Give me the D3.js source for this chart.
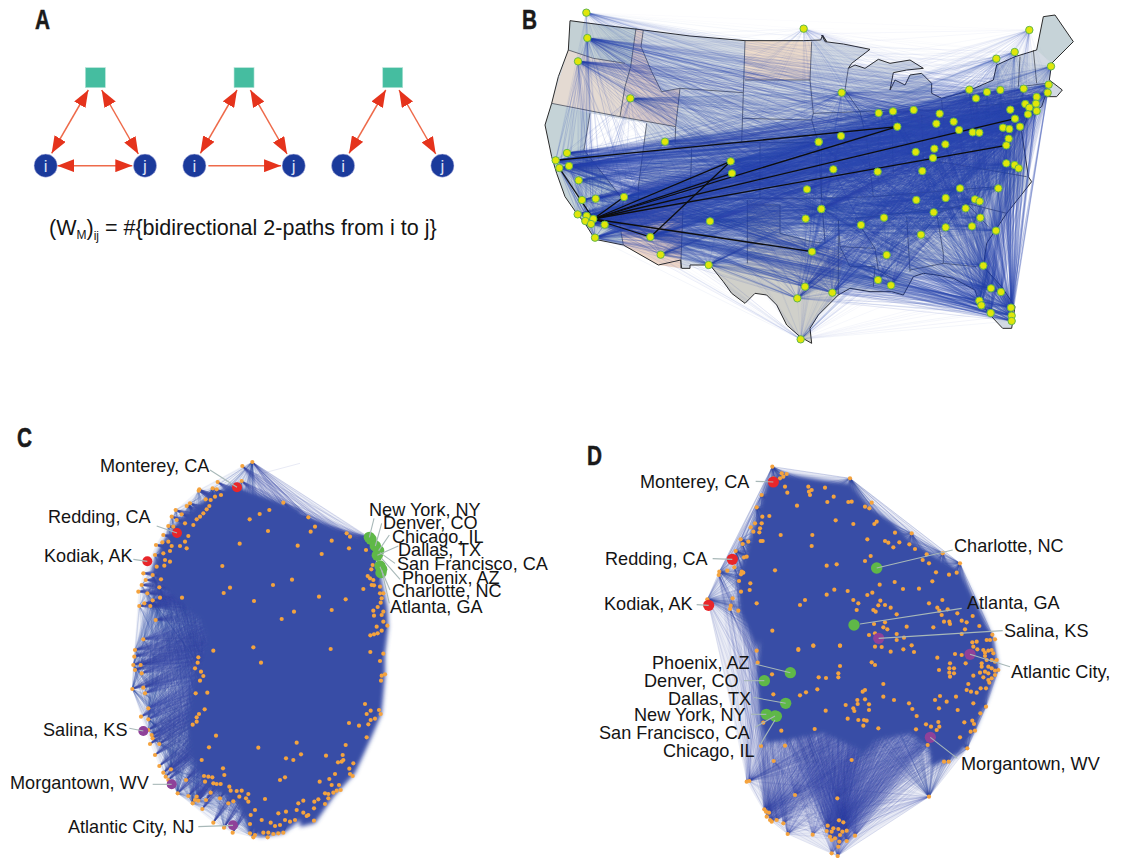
<!DOCTYPE html>
<html>
<head>
<meta charset="utf-8">
<script src="https://cdnjs.cloudflare.com/ajax/libs/d3/7.8.5/d3.min.js"></script>
<style>
body { margin: 0; background: #fff; }
text { font-family: "Liberation Sans", Arial, sans-serif; fill: #141414; }
.letter { font-weight: bold; font-size: 27px; fill: #1a1a1a; stroke: #1a1a1a; stroke-width: 0.5px; }
.label { font-size: 18.1px; }
</style>
</head>
<body>
<div id="chart"></div>
<script>
// ---------- data. each list is in the units of its own tile
// panel A
var motifNames = ["i", "j"];
var motifEdges = [["i", "j", "both"], ["i", "j", "one"], null];
var formulaParts = ["(W", "M", ")", "ij", " = #{bidirectional 2-paths from i to j}"];

// panel B airports [x, y, traffic]
var airportsWest = [[229,38,1.5],[232,114,4],[204,184,3],[361,295,2.5],[881,86,1],[465,425,2.5],[926,425,3],[171,459,3],[137,481,5],[148,504,4],[177,498,4],[206,541,2.5],[216,600,2],[257,596,2],[342,591,4.5],[203,643,2.5],[230,648,5],[226,663,3],[250,657,5],[243,672,3],[284,674,4],[255,713,4],[421,711,4.5],[452,764,2.5],[662,484,5],[666,520,4],[891,568,3],[934,627,3],[887,656,3],[600,664,3],[906,755,5],[596,795,2.5],[885,860,3],[862,895,3],[872,1018,1.2]];
var airportsEast = [[658,90,1],[614,156,1.5],[559,176,1.5],[723,199,1.5],[716,254,3],[713,278,4],[478,269,3],[531,276,3],[571,270,3],[641,266,3],[498,295,4],[680,291,4],[678,311,4],[646,312,4],[658,323,4],[680,333,4],[654,343,4],[601,329,4],[615,356,5],[95,278,3],[206,339,3],[249,334,3],[311,330,4],[389,341,4],[379,371,4],[431,365,4],[262,380,5],[447,390,4],[488,397,4],[508,398,4],[579,383,4],[598,387,4],[630,380,4],[596,416,4],[589,436,5],[26,426,3.5],[93,408,4],[317,456,4],[373,446,4],[406,433,4],[369,474,4],[70,508,4],[203,515,4],[337,513,3],[589,490,3],[614,495,3],[626,505,2.5],[450,565,3],[565,565,2.5],[319,600,3.5],[407,594,3],[495,598,3],[509,604,2.5],[34,627,3],[467,625,3],[371,637,5],[222,653,3],[153,675,3],[511,653,2.5],[486,679,2.5],[407,682,2.5],[558,692,2.5],[333,704,2.5],[230,765,2.5],[520,797,2.5],[204,840,2.5],[243,856,3],[67,878,4],[543,865,3],[573,876,3],[508,902,3],[514,916,3],[542,939,3],[603,923,4],[605,947,4.5],[605,963,4]];
// the routes in black, in west tile units
var blackRoutes = [
  [[137,481],[1162,380]], [[250,657],[1162,380]], [[250,657],[1515,356]], [[250,657],[1489,436]],
  [[250,657],[662,484]], [[250,657],[666,520]], [[250,657],[342,591]], [[421,711],[662,484]],
  [[250,657],[906,755]], [[250,657],[421,711]], [[148,504],[250,657]]
];

// map
var usWest = [[180,62],[300,78],[400,90],[540,108],[705,122],[880,122],[932,120],[938,105],[950,125]];
var usEast = [[35,105],[45,125],[100,132],[180,148],[125,190],[115,205],[135,195],[165,205],[205,178],[240,190],[300,180],[340,205],[290,210],[250,218],[240,270],[255,240],[285,255],[300,225],[335,220],[365,250],[365,280],[395,295],[470,275],[550,240],[560,195],[615,170],[680,150],[700,50],[735,45],[790,125],[725,190],[718,240],[757,270],[740,290],[705,290],[695,320],[655,345],[635,395],[655,530],[665,545],[630,590],[590,640],[530,730],[520,800],[575,860],[615,920],[605,985],[578,985],[545,950],[505,900],[495,870],[430,835],[380,825],[340,820],[310,830],[280,885],[245,875],[180,875],[120,865],[85,885],[25,945],[0,985]];
var usSouthWest = [[905,1030],[870,1010],[830,975],[800,915],[770,885],[735,880],[705,910],[665,880],[640,845],[600,795],[540,795],[540,805],[515,805],[512,780],[445,795],[340,735],[255,718],[225,670],[200,640],[165,590],[140,520],[125,470],[105,375],[125,310],[145,230],[175,150]];
var stateFills = [
  {name:"WA", tint:"#c3d0d4", shape:[[180,62],[378,85],[362,200],[345,190],[250,175],[175,150]]},
  {name:"OR", tint:"#e4dad2", shape:[[175,150],[250,175],[345,190],[362,200],[345,260],[330,350],[125,310]]},
  {name:"CA", tint:"#c5d3d7", shape:[[125,310],[240,340],[222,450],[340,600],[330,680],[340,735],[255,718],[225,670],[200,640],[165,590],[140,520],[125,470],[105,375]]},
  {name:"NV", tint:"#ffffff", shape:[[240,340],[410,370],[385,560],[345,600],[222,450]]},
  {name:"ID", tint:"#dccdca", shape:[[378,85],[400,90],[393,140],[425,215],[455,275],[510,265],[497,380],[330,350],[345,260],[362,200]]},
  {name:"AZ", tint:"#edd6c8", shape:[[345,600],[520,600],[512,805],[445,795],[340,735],[330,680]]},
  {name:"ND", tint:"#eedccb", shape:[[705,122],[905,125],[900,240],[705,240]]},
  {name:"TX", tint:"#d0d0ca", shape:[[712,600],[810,615],[810,700],[905,725],[1000,755],[985,885],[925,945],[900,985],[905,1030],[870,1010],[830,975],[800,915],[770,885],[735,880],[705,910],[665,880],[640,845],[600,795],[712,790]]},
  {name:"ME", tint:"#c6d3d8", shape:[[1600,50],[1635,45],[1690,125],[1625,190],[1580,150]]}
];
var bordersWest = [
  [[175,150],[250,175],[345,190]], [[378,85],[362,200],[345,260],[330,350]], [[125,310],[330,350],[497,380]],
  [[400,90],[393,140],[425,215],[455,275],[510,265]], [[510,265],[700,278]], [[510,265],[497,380],[495,430]],
  [[705,122],[700,278],[695,428]], [[705,240],[900,240]], [[905,125],[900,240],[910,340],[905,360],[925,428]],
  [[697,355],[905,360]], [[495,430],[697,428]], [[697,428],[750,428],[925,428]], [[545,445],[540,600]],
  [[750,430],[750,595]], [[240,340],[222,450],[340,600],[330,680],[340,735]], [[410,370],[385,560],[385,600]],
  [[345,600],[520,600],[750,595]], [[520,600],[512,805]], [[712,600],[712,790]],
  [[712,615],[810,615],[810,700],[905,725],[945,730]], [[750,595],[935,595]], [[925,428],[935,595],[945,730]]
];
var bordersEast = [
  [[115,205],[105,270],[150,335]], [[10,340],[150,335],[245,330]], [[25,430],[170,420]], [[150,335],[170,420],[190,590]],
  [[35,430],[35,595],[190,590]], [[245,330],[250,520]], [[335,345],[340,480]], [[280,335],[395,330]],
  [[395,300],[405,420]], [[190,590],[560,560]], [[135,655],[450,620]], [[340,480],[420,490],[650,530]],
  [[85,660],[90,740],[195,745]], [[135,655],[195,745]], [[90,740],[120,800],[195,800],[190,860]],
  [[195,745],[205,810],[255,840]], [[290,650],[300,815]], [[380,640],[400,760],[400,790]], [[300,810],[400,790],[500,800]],
  [[380,640],[470,610],[535,680]], [[470,610],[590,640]], [[480,320],[600,310]], [[630,170],[625,260]],
  [[670,150],[680,250]], [[630,260],[710,250]], [[405,400],[610,385]], [[85,660],[85,885]]
];

// panel C nodes
var cTop = [[757,126],[727,138],[725,183],[653,186],[638,205],[598,208],[596,212],[663,225],[650,208],[645,230],[632,240],[617,238],[570,250],[560,258],[527,270],[628,258],[620,268],[610,280],[600,290],[590,298],[580,315],[545,283],[515,290],[530,300],[555,310],[520,320],[505,318],[490,345],[505,365],[565,348],[555,365],[560,385],[540,378],[515,378],[487,367],[468,375],[490,400],[510,393],[465,405],[510,425],[495,420],[493,437],[470,440],[430,460],[458,465],[437,480],[425,495],[483,478],[478,502],[415,515],[442,520],[480,533],[458,541],[433,550],[418,558],[451,558],[546,533],[467,600],[430,658],[850,248],[808,270],[779,282],[749,298],[804,333],[719,371],[893,377],[667,438],[690,503],[671,519],[819,495],[876,479],[762,543],[882,575],[845,597]];
var cBottom = [[405,30],[403,50],[400,75],[405,90],[422,75],[425,100],[397,147],[430,143],[435,160],[595,52],[593,68],[585,85],[603,95],[610,108],[600,122],[622,158],[587,160],[640,32],[760,22],[783,68],[445,205],[423,230],[445,238],[614,208],[597,222],[590,232],[590,245],[578,254],[445,270],[455,285],[458,295],[450,312],[478,312],[648,287],[627,322],[465,345],[605,360],[478,378],[513,388],[490,398],[497,410],[505,420],[775,323],[890,308],[858,355],[880,360],[669,385],[673,405],[612,408],[625,410],[637,412],[615,425],[640,430],[650,432],[662,432],[855,412],[840,420],[558,420],[688,440],[692,452],[710,453],[725,452],[745,462],[718,470],[738,475],[745,485],[533,460],[565,468],[590,470],[585,480],[595,482],[632,458],[660,475],[618,480],[578,490],[700,484],[685,490],[607,507],[795,477],[765,510],[835,520],[858,515],[785,540],[812,548],[825,558],[840,555],[855,540],[870,545],[885,540],[890,510],[895,490],[640,548],[672,563],[698,578],[752,525],[750,552],[750,580],[765,585],[760,592],[790,578],[805,578],[820,582],[803,592],[835,580],[850,578]];
var cRight = [[25,112],[45,140],[32,155],[140,160],[150,170],[95,182],[147,205],[65,222],[198,210],[218,255],[214,268],[203,288],[210,295],[220,300],[215,315],[222,316],[190,327],[240,320],[240,340],[250,340],[245,355],[57,350],[137,358],[95,390],[242,368],[233,381],[220,392],[250,395],[245,405],[222,407],[250,425],[230,440],[262,437],[245,452],[233,460],[222,463],[211,466],[92,507],[211,516],[250,521],[240,543],[255,583],[245,587],[243,602],[195,672],[212,692],[237,690],[242,702],[200,702],[212,720],[225,716],[205,733],[147,729],[177,737],[200,772],[137,795],[3,823],[78,827],[128,825],[130,840],[114,847],[125,845],[160,850],[148,866],[150,882],[158,888],[105,882],[88,897],[59,905],[95,915],[117,915],[122,930],[110,932],[75,940],[85,942],[100,938],[85,955],[10,962],[55,958],[43,965],[75,972],[42,985],[10,998],[25,1005],[42,1022],[20,1008]];
var cGreen = [[208,172],[213,178],[226,198],[236,212],[232,226],[240,258],[245,268],[243,278]];
var cRedTop = [[711,202],[531,339],[442,424]];
var cPurple = [[430,273],[515,433],[699,556]];
var cCoreTop = [[700,195],[850,250],[900,270]];
var cCoreRight = [[0,100],[130,155],[195,180],[240,280],[262,380],[265,440],[255,520],[255,590],[245,700],[215,770],[165,880],[100,950],[45,1030],[0,1040]];
var cCoreBottom = [[900,540],[850,580],[780,590],[750,570],[715,490],[610,430],[570,340],[560,250],[590,100],[620,0]];
var cCoreLeft = [[600,600],[500,510],[455,450],[480,380],[540,300],[620,235],[680,200]];
var cStray = [[[900,130],[750,170]]];

// panel D nodes
var dTop = [[547,80],[550,115],[575,100],[590,102],[580,110],[570,115],[585,140],[592,158],[515,165],[500,202],[538,228],[517,230],[515,250],[495,250],[482,262],[490,275],[510,265],[508,277],[621,197],[655,140],[657,155],[665,150],[660,165],[705,143],[731,170],[712,186],[775,186],[785,185],[780,115],[737,241],[790,252],[572,285],[667,285],[512,303],[518,303],[452,298],[458,312],[475,305],[665,318],[437,333],[470,350],[462,352],[433,382],[412,392],[388,395],[386,405],[455,395],[460,398],[453,403],[555,391],[710,377],[740,373],[447,423],[481,430],[479,450],[453,455],[733,449],[710,464],[773,453],[790,480],[500,490],[428,475],[422,497],[420,507],[445,512],[352,478],[645,480],[630,495],[805,490],[800,510],[547,572],[670,617],[750,617],[625,627]];
var dMiddle = [[500,32],[503,68],[546,103],[625,30],[670,17],[750,17],[750,78],[745,100],[745,112],[686,112],[708,114],[682,148],[648,157],[630,166],[550,163],[767,195],[790,205],[793,213],[802,180],[803,192],[707,212],[773,236],[805,240],[520,248],[674,267],[574,272],[513,318],[585,317],[551,363],[785,360]];
var dBottom = [[478,423],[470,425],[615,465],[742,475],[523,508],[528,515],[537,518],[530,530],[540,540],[545,545],[560,540],[580,550],[593,582],[668,584],[713,557],[747,541],[760,547],[730,565],[745,567],[770,572],[757,575],[710,573],[725,575],[795,587],[720,590],[750,585],[735,595],[725,600],[770,603],[748,605],[745,620],[725,640],[743,648]];
var dRight = [[35,8],[28,25],[15,20],[50,65],[43,72],[105,98],[155,100],[22,118],[75,123],[85,128],[118,127],[148,133],[100,142],[165,147],[200,163],[248,160],[300,190],[32,168],[15,183],[188,180],[207,190],[228,217],[267,224],[290,218],[104,246],[217,244],[59,254],[129,267],[177,266],[37,278],[22,285],[61,302],[75,315],[55,316],[92,323],[40,330],[47,335],[207,310],[247,300],[232,323],[263,328],[238,332],[245,345],[292,340],[110,343],[338,348],[305,362],[320,367],[252,365],[268,365],[270,372],[220,382],[140,380],[75,367],[42,372],[70,382],[82,388],[45,400],[27,405],[110,402],[132,413],[305,402],[315,388],[358,378],[397,404],[405,418],[110,420],[155,436],[130,448],[162,456],[92,455],[65,441],[45,440],[350,425],[337,427],[340,440],[352,448],[380,420],[390,420],[370,450],[375,458],[385,452],[395,450],[400,460],[285,462],[305,465],[375,468],[365,490],[380,480],[395,480],[405,485],[410,480],[35,487],[45,495],[232,473],[270,490],[317,490],[237,510],[268,505],[282,505],[268,518],[282,520],[270,530],[365,500],[385,500],[395,505],[405,512],[415,510],[375,515],[360,518],[385,520],[340,527],[370,532],[385,540],[395,535],[405,525],[325,552],[320,570],[333,575],[350,578],[362,565],[378,565],[388,548],[70,552],[15,570],[8,575],[70,590],[102,600],[15,598],[27,613],[27,630],[147,610],[157,627],[225,600],[240,588],[260,605],[288,590],[340,610],[378,620],[361,640],[237,625],[293,630],[170,648],[12,660],[20,662],[10,677],[55,685],[198,673],[235,666],[213,680],[238,680],[230,690],[313,667],[337,662],[342,672],[168,688],[332,695],[345,692],[300,712],[322,745],[203,735],[252,785],[266,785],[207,890]];
var dRimTop = [[352,478],[388,395],[437,333],[452,298],[500,202],[515,165],[547,80],[780,115],[705,143]];
var dRimRight = [[155,100],[248,160],[300,190],[290,218],[358,378],[397,404],[415,510],[378,620],[345,692],[322,745],[266,785],[207,890]];
var dRed = [[550,126],[427,358],[356,496]];
var dGreenTop = [[792,555]];
var dGreenMid = [[601,98],[523,122],[587,190],[529,223],[555,228],[559,229]];
var dGreenRight = [[50,204]];
var dPurple = [[56,415],[330,463],[211,712]];
var dCoreTop = [[575,100],[700,120],[780,130]];
var dCoreRight = [[30,20],[100,70],[150,120],[235,175],[300,210],[370,350],[400,420],[415,500],[385,590],[345,690],[300,760],[215,800],[205,740],[150,700],[50,720],[0,770]];
var dCoreBottom = [[810,330],[700,280],[600,300],[530,310],[510,250],[500,100],[510,0]];
var dCoreLeft = [[500,630],[450,520],[440,420],[480,300],[530,130],[550,110]];

// labels
var cLabelNames = ["Monterey, CA","Redding, CA","Kodiak, AK","Salina, KS","Morgantown, WV","Atlantic City, NJ","New York, NY","Denver, CO","Chicago, IL","Dallas, TX","San Francisco, CA","Phoenix, AZ","Charlotte, NC","Atlanta, GA"];
var dLabelNames = ["Monterey, CA","Redding, CA","Kodiak, AK","Phoenix, AZ","Denver, CO","Dallas, TX","New York, NY","San Francisco, CA","Chicago, IL","Charlotte, NC","Atlanta, GA","Salina, KS","Atlantic City,","Morgantown, WV"];

// ---------- layout
var width = 1127, height = 858;
var svg = d3.select("#chart").append("svg").attr("width", width).attr("height", height);
var defs = svg.append("defs");
defs.append("filter").attr("id", "soft").attr("x", "-5%").attr("y", "-5%").attr("width", "110%").attr("height", "110%")
  .append("feGaussianBlur").attr("stdDeviation", 2.2);

function tile(x0, y0) {
  return {
    x: d3.scaleLinear().domain([0, 3]).range([x0, x0 + 1]),
    y: d3.scaleLinear().domain([0, 3]).range([y0, y0 + 1])
  };
}
function place(pts, t) {
  return pts.map(function(p) { return {x: t.x(p[0]), y: t.y(p[1]), w: p[2] || 1}; });
}
var line = d3.line().x(function(d) { return d.x; }).y(function(d) { return d.y; });
function closedPath(pts) { return line(pts) + "Z"; }
function hullOf(pts) {
  return d3.polygonHull(pts.map(function(p) { return [p.x, p.y]; })).map(function(p) { return {x: p[0], y: p[1]}; });
}

function drawEdges(g, pairs, stroke, sw, op) {
  g.append("g").selectAll("line").data(pairs).join("line")
    .attr("x1", function(d) { return d[0].x; }).attr("y1", function(d) { return d[0].y; })
    .attr("x2", function(d) { return d[1].x; }).attr("y2", function(d) { return d[1].y; })
    .attr("stroke", stroke).attr("stroke-width", sw)
    .attr("stroke-opacity", op);
}
function cross(a, b) {
  var out = [];
  a.forEach(function(p) { b.forEach(function(q) { if (p !== q) out.push([p, q]); }); });
  return out;
}
function allPairs(a) {
  var out = [];
  a.forEach(function(p, i) { a.slice(i + 1).forEach(function(q) { out.push([p, q]); }); });
  return out;
}
function everyNth(a, n) {
  return a.filter(function(p, i) { return i % n === 0; });
}
function dots(g, pts, fill, r, stroke, sw) {
  g.append("g").selectAll("circle").data(pts).join("circle")
    .attr("cx", function(d) { return d.x; }).attr("cy", function(d) { return d.y; })
    .attr("r", r).attr("fill", fill)
    .attr("stroke", stroke || "none").attr("stroke-width", sw || 0);
}
function letter(t, x, y) {
  svg.append("text").attr("class", "letter").attr("x", x).attr("y", y)
    .attr("textLength", 15).attr("lengthAdjust", "spacingAndGlyphs").text(t);
}
letter("A", 35, 29); letter("B", 522, 29); letter("C", 17, 447); letter("D", 587, 465);

// ---------- panel A
var panelA = svg.append("g");
defs.append("marker").attr("id", "head").attr("markerUnits", "userSpaceOnUse")
  .attr("viewBox", "0 0 17 13").attr("markerWidth", 17).attr("markerHeight", 13)
  .attr("refX", 17).attr("refY", 6.5).attr("orient", "auto-start-reverse")
  .append("path").attr("d", "M0,0L17,6.5L0,13Z").attr("fill", "#e5331c");

var motifX = d3.scaleLinear().domain([0, 1]).range([0, 148.7]);
var tA = tile(0, 0);
motifEdges.forEach(function(e, m) {
  var dx = motifX(m);
  var g = panelA.append("g").attr("transform", "translate(" + dx + ",0)");
  [[265,270,155,460],[305,270,415,462]].forEach(function(s) {
    g.append("line").attr("x1", tA.x(s[0])).attr("y1", tA.y(s[1])).attr("x2", tA.x(s[2])).attr("y2", tA.y(s[3]))
      .attr("stroke", "#ee6a4a").attr("stroke-width", 1.5)
      .attr("marker-start", "url(#head)").attr("marker-end", "url(#head)");
  });
  if (e) {
    var h = g.append("line").attr("x1", tA.x(e[2] === "both" ? 172 : 179)).attr("y1", tA.y(497))
      .attr("x2", tA.x(397)).attr("y2", tA.y(497))
      .attr("stroke", "#ee6a4a").attr("stroke-width", 1.5).attr("marker-end", "url(#head)");
    if (e[2] === "both") h.attr("marker-start", "url(#head)");
  }
  g.append("rect").attr("x", tA.x(256)).attr("y", tA.y(203)).attr("width", 20).attr("height", 20)
    .attr("fill", "#45bda0").attr("stroke", "#b5e4d8").attr("stroke-width", 0.6);
  motifNames.forEach(function(n, k) {
    var cx = tA.x(k ? 435 : 137), cy = tA.y(497);
    g.append("circle").attr("cx", cx).attr("cy", cy).attr("r", 11.6)
      .attr("fill", "#1b3a9b").attr("stroke", "#c9c6ea").attr("stroke-width", 0.5);
    g.append("text").attr("x", cx).attr("y", cy + 6).attr("text-anchor", "middle")
      .style("fill", "#dfe3f5").style("font-size", "17px").text(n);
  });
});
var formula = panelA.append("text").attr("x", 49).attr("y", 235).style("font-size", "21.5px");
formula.append("tspan").text(formulaParts[0]);
formula.append("tspan").attr("dy", 4).style("font-size", "12px").text(formulaParts[1]);
formula.append("tspan").attr("dy", -4).text(formulaParts[2]);
formula.append("tspan").attr("dy", 5).style("font-size", "12px").text(formulaParts[3]);
formula.append("tspan").attr("dy", -5).text(formulaParts[4]);

// ---------- panel B
var panelB = svg.append("g");
var tW = tile(510, 0), tE = tile(810, 0);
var outline = place(usWest, tW).concat(place(usEast, tE), place(usSouthWest, tW));
panelB.append("path").attr("d", closedPath(outline)).attr("fill", "#d3dae3");
panelB.selectAll(".state").data(stateFills).join("path").attr("class", "state")
  .attr("d", function(d) { return closedPath(place(d.shape, tW)); })
  .attr("fill", function(d) { return d.tint; });
panelB.append("g").selectAll("path").data(bordersWest.map(function(l) { return place(l, tW); })
    .concat(bordersEast.map(function(l) { return place(l, tE); })))
  .join("path").attr("d", line).attr("fill", "none").attr("stroke", "#4a4f5a").attr("stroke-width", 0.8);
panelB.append("path").attr("d", closedPath(outline)).attr("fill", "none").attr("stroke", "#2b2b2b").attr("stroke-width", 1);

var airports = place(airportsWest, tW).concat(place(airportsEast, tE));
var trafficOp = d3.scaleLinear().domain([1, 25]).range([0.02, 0.4]).clamp(true);
drawEdges(panelB, allPairs(airports), "#2a46b0", 0.7, function(d) { return trafficOp(d[0].w * d[1].w); });
drawEdges(panelB, blackRoutes.map(function(r) { return place(r, tW); }), "#0d0d0d", 1.3, 1);
dots(panelB, airports, "#e0e60a", 3.7, "#62b64e", 1);

// ---------- panel C
var panelC = svg.append("g");
var tC1 = tile(0, 420), tC2 = tile(0, 640), tC3 = tile(300, 480);
var cLeftNodes = place(cTop, tC1).concat(place(cBottom, tC2));
var cRightNodes = place(cRight, tC3);
var cHubs = place(cGreen, tC3);
var cAll = cLeftNodes.concat(cRightNodes);
var cAnchors = cRightNodes.slice(0, 40).concat(cHubs);
panelC.append("path").attr("d", closedPath(hullOf(cAll.concat(cHubs))))
  .attr("fill", "#3a4fa8").attr("fill-opacity", 0.07);
// low opacity on very thin lines rounds to a green tint, so fewer and stronger lines here
drawEdges(panelC, cross(everyNth(cLeftNodes, 4), everyNth(cLeftNodes, 2)), "#3a4fa8", 0.7, 0.1);
drawEdges(panelC, cross(cLeftNodes, cAnchors), "#3a4fa8", 0.6, 0.22);
drawEdges(panelC, cStray.map(function(r) { return place(r, tC1); }), "#3a4fa8", 0.6, 0.2);
panelC.append("path").attr("d", closedPath(place(cCoreTop, tC1).concat(place(cCoreRight, tC3), place(cCoreBottom, tC2), place(cCoreLeft, tC1))))
  .attr("fill", "#394ea6").attr("filter", "url(#soft)");
dots(panelC, cAll, "#f4a33e", 2.1);
dots(panelC, cHubs, "#5fb848", 5.7);
dots(panelC, place(cRedTop, tC1), "#e8262a", 5);
dots(panelC, place(cPurple, tC2), "#8f4199", 5);

// label lines and labels, C
var cLeaders = place([[630,150],[711,202],[470,318],[531,339],[400,418],[442,424]], tC1)
  .concat(place([[388,265],[430,273],[458,433],[515,433],[595,560],[699,556]], tC2),
          place([[222,115],[208,172],[245,130],[226,198],[268,165],[236,212],[295,198],[232,226],[285,250],[240,218],[300,298],[245,235],[270,330],[240,260],[268,370],[245,270]], tC3));
var cLabelX = [100,48,44,43,10,68,369,383,392,398,397,402,392,390];
var cLabelY = [472,523,562,736,789,833,516,529,543,556,570,584,597,613];

function leaders(g, pts) {
  for (var i = 0; i < pts.length; i += 2) {
    g.append("line").attr("x1", pts[i].x).attr("y1", pts[i].y).attr("x2", pts[i + 1].x).attr("y2", pts[i + 1].y)
      .attr("stroke", "#a8b8b8").attr("stroke-width", 1.1);
  }
}
function labels(g, names, xs, ys) {
  g.selectAll(".label").data(names).join("text").attr("class", "label")
    .attr("x", function(d, i) { return xs[i]; }).attr("y", function(d, i) { return ys[i]; })
    .text(function(d) { return d; });
}
leaders(panelC, cLeaders);
labels(panelC, cLabelNames, cLabelX, cLabelY);

// ---------- panel D
var panelD = svg.append("g");
var tD1 = tile(590, 440), tD2 = tile(590, 640), tD3 = tile(860, 500);
var dTopNodes = place(dTop, tD1), dMidNodes = place(dMiddle, tD2), dBotNodes = place(dBottom, tD2), dRightNodes = place(dRight, tD3);
var dAll = dTopNodes.concat(dMidNodes, dRightNodes);
var dRim = place(dRimTop, tD1).concat(place(dRimRight, tD3));
panelD.append("path").attr("d", closedPath(hullOf(dAll.concat(dBotNodes))))
  .attr("fill", "#3a4fa8").attr("fill-opacity", 0.1);
drawEdges(panelD, cross(dBotNodes, everyNth(dAll, 3)), "#3a4fa8", 0.7, 0.09);
drawEdges(panelD, cross(dRim, everyNth(dAll, 2)), "#3a4fa8", 0.7, 0.12);
drawEdges(panelD, allPairs(dRim.concat(everyNth(dBotNodes, 4))), "#3a4fa8", 0.6, 0.18);
panelD.append("path").attr("d", closedPath(place(dCoreTop, tD1).concat(place(dCoreRight, tD3), place(dCoreBottom, tD2), place(dCoreLeft, tD1))))
  .attr("fill", "#394ea6").attr("filter", "url(#soft)");
dots(panelD, dAll.concat(dBotNodes), "#f4a33e", 2.1);
dots(panelD, place(dRed, tD1), "#e8262a", 5.6);
dots(panelD, place(dGreenTop, tD1).concat(place(dGreenMid, tD2), place(dGreenRight, tD3)), "#5fb848", 5.7);
dots(panelD, place(dPurple, tD3), "#8f4199", 5.6);

var dLeaders = place([[497,124],[550,126],[368,356],[427,358],[320,494],[356,496]], tD1)
  .concat(place([[495,72],[601,98],[462,122],[523,122],[490,172],[587,190],[483,223],[529,223],[495,262],[555,228],[510,315],[555,240]], tD2),
          place([[278,150],[50,204],[305,325],[0,372],[428,392],[56,415],[450,500],[330,463],[292,775],[211,712]], tD3));
var dLabelX = [640,605,604,652,644,668,634,599,663,954,967,1004,1011,961];
var dLabelY = [488,565,610,669,687,705,721,739,757,552,609,637,678,770];
leaders(panelD, dLeaders);
labels(panelD, dLabelNames, dLabelX, dLabelY);
</script>
</body>
</html>
